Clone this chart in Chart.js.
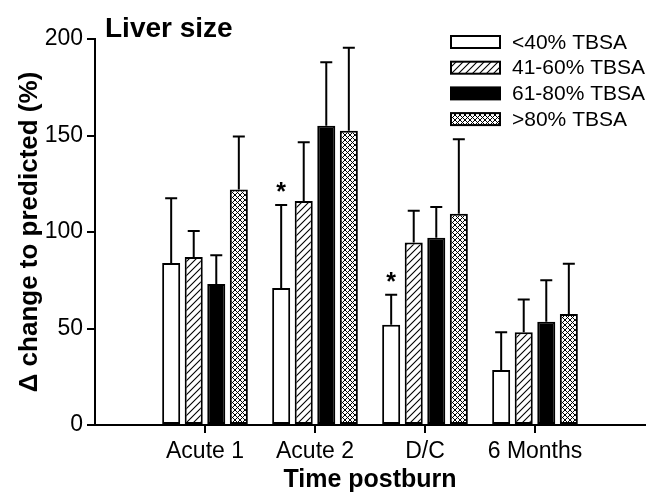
<!DOCTYPE html>
<html>
<head>
<meta charset="utf-8">
<script src="https://cdn.jsdelivr.net/npm/chart.js@4.4.1/dist/chart.umd.min.js"></script>
<style>
  html, body { margin: 0; padding: 0; background: #fff; }
  #wrap { width: 648px; height: 493px; }
</style>
</head>
<body>
<div id="wrap"><canvas id="liverChart"></canvas></div>
<script>
// data
const categories = ['Acute 1', 'Acute 2', 'D/C', '6 Months'];
const seriesNames = ['<40% TBSA', '41-60% TBSA', '61-80% TBSA', '>80% TBSA'];

const lt40 = [84, 71, 52, 28.5];
const tbsa41to60 = [87, 116, 94.5, 48];
const tbsa61to80 = [73, 155, 97, 53.5];
const gt80 = [122, 152.5, 109.5, 57.5];

// upper error (SD)
const lt40Sd = [33.5, 43, 15.5, 19.5];
const tbsa41to60Sd = [13.5, 30.5, 16.5, 17];
const tbsa61to80Sd = [15, 33, 16, 21.5];
const gt80Sd = [27.5, 43, 38.5, 26];

// significance marks (*)
const lt40Marks = [false, true, true, false];
const noMarks = [false, false, false, false];

const yTicks = [0, 50, 100, 150, 200];

const FONT = "'Liberation Sans', Arial, Helvetica, sans-serif";

function makeHatch() {
    const c = document.createElement('canvas');
    c.width = 7; c.height = 7;
    const g = c.getContext('2d');
    g.fillStyle = '#fff';
    g.fillRect(0, 0, 7, 7);
    g.strokeStyle = '#000';
    g.lineWidth = 1.1;
    g.beginPath();
    g.moveTo(-1, 8); g.lineTo(8, -1);
    g.moveTo(-1, 1); g.lineTo(1, -1);
    g.moveTo(6, 8); g.lineTo(8, 6);
    g.stroke();
    return g.createPattern(c, 'repeat');
}

function makeCross() {
    const c = document.createElement('canvas');
    c.width = 5; c.height = 5;
    const g = c.getContext('2d');
    g.fillStyle = '#fff';
    g.fillRect(0, 0, 5, 5);
    g.strokeStyle = '#000';
    g.lineWidth = 1;
    g.beginPath();
    g.moveTo(0, 0); g.lineTo(5, 5);
    g.moveTo(5, 0); g.lineTo(0, 5);
    g.stroke();
    return g.createPattern(c, 'repeat');
}

const fills = ['#ffffff', makeHatch(), '#000000', makeCross()];
const values = [lt40, tbsa41to60, tbsa61to80, gt80];
const sds = [lt40Sd, tbsa41to60Sd, tbsa61to80Sd, gt80Sd];
const marks = [lt40Marks, noMarks, noMarks, noMarks];

// blank slots at both ends so the groups sit where they do in the figure
const labels = [''].concat(categories, ['']);
const pad = arr => [null].concat(arr, [null]);

const errorBars = {
    id: 'errorBars',
    afterDatasetsDraw(chart) {
        const ctx = chart.ctx;
        const y = chart.scales.y;
        ctx.save();
        ctx.strokeStyle = '#000';
        ctx.lineWidth = 2;
        chart.data.datasets.forEach((ds, i) => {
            const meta = chart.getDatasetMeta(i);
            meta.data.forEach((bar, j) => {
                const k = j - 1;
                if (k < 0 || k >= categories.length) return;
                const top = y.getPixelForValue(values[i][k] + sds[i][k]);
                ctx.beginPath();
                ctx.moveTo(bar.x, bar.y);
                ctx.lineTo(bar.x, top);
                ctx.moveTo(bar.x - 6, top);
                ctx.lineTo(bar.x + 6, top);
                ctx.stroke();
                if (marks[i][k]) {
                    ctx.fillStyle = '#000';
                    ctx.font = 'bold 25px ' + FONT;
                    ctx.textAlign = 'center';
                    ctx.textBaseline = 'alphabetic';
                    ctx.fillText('*', bar.x, top - 5);
                }
            });
        });
        ctx.restore();
    }
};

const decorations = {
    id: 'decorations',
    afterDraw(chart) {
        const ctx = chart.ctx;
        const x = chart.scales.x;
        const base = chart.chartArea.bottom;
        ctx.save();
        // category tick marks under the x axis
        ctx.strokeStyle = '#000';
        ctx.lineWidth = 2;
        categories.forEach((c, k) => {
            const px = Math.round(x.getPixelForValue(k + 1));
            ctx.beginPath();
            ctx.moveTo(px, base);
            ctx.lineTo(px, base + 8);
            ctx.stroke();
        });

        // panel title
        ctx.fillStyle = '#000';
        ctx.font = 'bold 28px ' + FONT;
        ctx.textAlign = 'left';
        ctx.textBaseline = 'alphabetic';
        ctx.fillText('Liver size', 105, 37);

        // legend
        ctx.font = '21px ' + FONT;
        ctx.textBaseline = 'middle';
        chart.data.datasets.forEach((ds, i) => {
            const cy = 42 + i * 25.7;
            ctx.fillStyle = ds.backgroundColor;
            ctx.fillRect(451, cy - 6, 49, 12);
            ctx.strokeStyle = '#000';
            ctx.lineWidth = 2;
            ctx.strokeRect(451, cy - 6, 49, 12);
            ctx.fillStyle = '#000';
            ctx.fillText(ds.label, 512, cy + 1);
        });
        ctx.restore();
    }
};

new Chart(document.getElementById('liverChart'), {
    type: 'bar',
    data: {
        labels: labels,
        datasets: values.map((v, i) => ({
            label: seriesNames[i],
            data: pad(v),
            backgroundColor: fills[i],
            borderColor: '#000',
            borderWidth: 2,
            borderSkipped: false,
            categoryPercentage: 0.82,
            barPercentage: 0.8
        }))
    },
    options: {
        responsive: true,
        maintainAspectRatio: false,
        animation: false,
        layout: { padding: { top: 39, right: 3, left: 0, bottom: 0 } },
        plugins: {
            legend: { display: false },
            tooltip: { enabled: false }
        },
        scales: {
            x: {
                offset: false,
                afterFit: s => {
                    s.height = 68;
                    s.paddingLeft = 0;
                    s.paddingRight = 0;
                },
                grid: { display: false, offset: false },
                border: { display: true, color: '#000', width: 2 },
                ticks: {
                    color: '#000',
                    padding: 5,
                    maxRotation: 0,
                    autoSkip: false,
                    font: { family: FONT, size: 23 }
                },
                title: {
                    display: true,
                    text: 'Time postburn',
                    color: '#000',
                    padding: { top: 0, bottom: -2 },
                    font: { family: FONT, size: 25, weight: 'bold' }
                }
            },
            y: {
                min: 0,
                max: 200,
                afterFit: s => { s.width = 95; },
                afterBuildTicks: s => { s.ticks = yTicks.map(v => ({ value: v })); },
                grid: {
                    drawOnChartArea: false,
                    drawTicks: true,
                    tickLength: 8,
                    lineWidth: 2,
                    color: '#000'
                },
                border: { display: true, color: '#000', width: 2 },
                ticks: {
                    color: '#000',
                    padding: 4,
                    font: { family: FONT, size: 23 }
                },
                title: {
                    display: true,
                    text: '\u0394 change to predicted (%)',
                    color: '#000',
                    padding: { top: 14, bottom: 0 },
                    font: { family: FONT, size: 26, weight: 'bold' }
                }
            }
        }
    },
    plugins: [errorBars, decorations]
});
</script>
</body>
</html>
